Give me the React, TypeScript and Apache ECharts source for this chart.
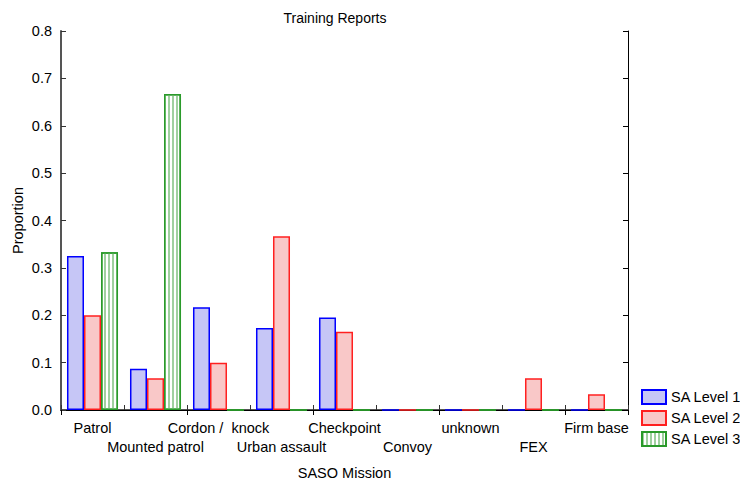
import React, { useEffect, useRef } from "react";
import * as echarts from "echarts";

const categories = ["Patrol", "Mounted patrol", "Cordon /  knock", "Urban assault", "Checkpoint", "Convoy", "unknown", "FEX", "Firm base"];
const level1 = [0.325, 0.087, 0.217, 0.173, 0.195, 0, 0, 0, 0];
const level2 = [0.2, 0.067, 0.1, 0.367, 0.165, 0, 0, 0.067, 0.033];
const level3 = [0.333, 0.667, 0, 0, 0, 0, 0, 0, 0];
const seriesNames = ["SA Level 1", "SA Level 2", "SA Level 3"];

const FONT = "Liberation Sans, Arial, sans-serif";
const FS = 14.5;

export default function App() {
  const ref = useRef<HTMLDivElement>(null);
  useEffect(() => {
    const chart = echarts.init(ref.current!, undefined, { renderer: "svg" });
    const grid = { left: 61, right: 112, top: 31, bottom: 70, containLabel: false, outerBoundsMode: "none" };
    chart.setOption({
      animation: false,
      backgroundColor: "#ffffff",
      textStyle: { fontFamily: FONT },
      title: {
        text: "Training Reports",
        left: 330,
        textAlign: "center",
        top: 6,
        textStyle: { fontFamily: FONT, fontSize: 14, fontWeight: "normal", color: "#000" },
      },
      legend: {
        orient: "vertical",
        left: 636,
        top: 384,
        itemWidth: 24,
        itemHeight: 14,
        itemGap: 5,
        icon: "rect",
        textStyle: { fontFamily: FONT, fontSize: FS, color: "#000" },
        data: seriesNames,
      },
      grid,
      xAxis: [
        {
          type: "category",
          data: categories,
          position: "bottom",
          boundaryGap: true,
          name: "SASO Mission",
          nameLocation: "middle",
          nameGap: 55,
          nameMoveOverlap: false,
          nameTextStyle: { fontFamily: FONT, fontSize: FS, color: "#000" },
          axisLine: { show: true, lineStyle: { color: "#555", width: 2 } },
          axisTick: { show: true, inside: true, length: 5, lineStyle: { color: "#333" } },
          axisLabel: {
            interval: 0,
            hideOverlap: false,
            margin: 8,
            fontFamily: FONT,
            fontSize: FS,
            color: "#000",
            lineHeight: 19,
            formatter: (v: string, i: number) => (i % 2 === 1 ? "\n" + v : v),
          },
          splitLine: { show: false },
        },
        {
          type: "category",
          data: categories,
          position: "top",
          boundaryGap: true,
          axisLine: { show: true, lineStyle: { color: "#000", width: 1 } },
          axisTick: { show: true, inside: true, length: 5, lineStyle: { color: "#000" } },
          axisLabel: { show: false },
          splitLine: { show: false },
        },
      ],
      yAxis: [
        {
          type: "value",
          min: 0,
          max: 0.8,
          interval: 0.1,
          position: "left",
          name: "Proportion",
          nameLocation: "middle",
          nameGap: 36,
          nameMoveOverlap: false,
          nameRotate: 90,
          nameTextStyle: { fontFamily: FONT, fontSize: FS, color: "#000" },
          axisLine: { show: true, lineStyle: { color: "#555", width: 2 } },
          axisTick: { show: true, inside: true, length: 5, lineStyle: { color: "#333" } },
          axisLabel: {
            margin: 9,
            fontFamily: FONT,
            fontSize: FS,
            color: "#000",
            formatter: (v: number) => v.toFixed(1),
          },
          splitLine: { show: false },
        },
        {
          type: "value",
          min: 0,
          max: 0.8,
          interval: 0.1,
          position: "right",
          axisLine: { show: true, lineStyle: { color: "#000", width: 1 } },
          axisTick: { show: true, inside: true, length: 5, lineStyle: { color: "#000" } },
          axisLabel: { show: false },
          splitLine: { show: false },
        },
      ],
      series: [
        {
          name: seriesNames[0],
          type: "bar",
          data: level1,
          xAxisIndex: 0,
          yAxisIndex: 0,
          barGap: "0%",
          barCategoryGap: "19%",
          itemStyle: { color: "#c6c6f6", borderColor: "#0000ff", borderWidth: 1.5 },
        },
        {
          name: seriesNames[1],
          type: "bar",
          data: level2,
          xAxisIndex: 0,
          yAxisIndex: 0,
          barGap: "0%",
          barCategoryGap: "19%",
          itemStyle: { color: "#f9c8c8", borderColor: "#ff2020", borderWidth: 1.5 },
        },
        {
          name: seriesNames[2],
          type: "bar",
          data: level3,
          xAxisIndex: 0,
          yAxisIndex: 0,
          barGap: "0%",
          barCategoryGap: "19%",
          itemStyle: {
            color: "#ffffff",
            borderColor: "#2a9a2a",
            borderWidth: 1.5,
            decal: {
              symbol: "rect",
              symbolSize: 1,
              color: "#9fd09f",
              dashArrayX: [2, 1.4],
              dashArrayY: [10, 0],
              rotation: 0,
            },
          },
        },
      ],
    });
    return () => chart.dispose();
  }, []);
  return <div ref={ref} style={{ width: 740, height: 480, position: "absolute", left: 0, top: 0 }} />;
}
